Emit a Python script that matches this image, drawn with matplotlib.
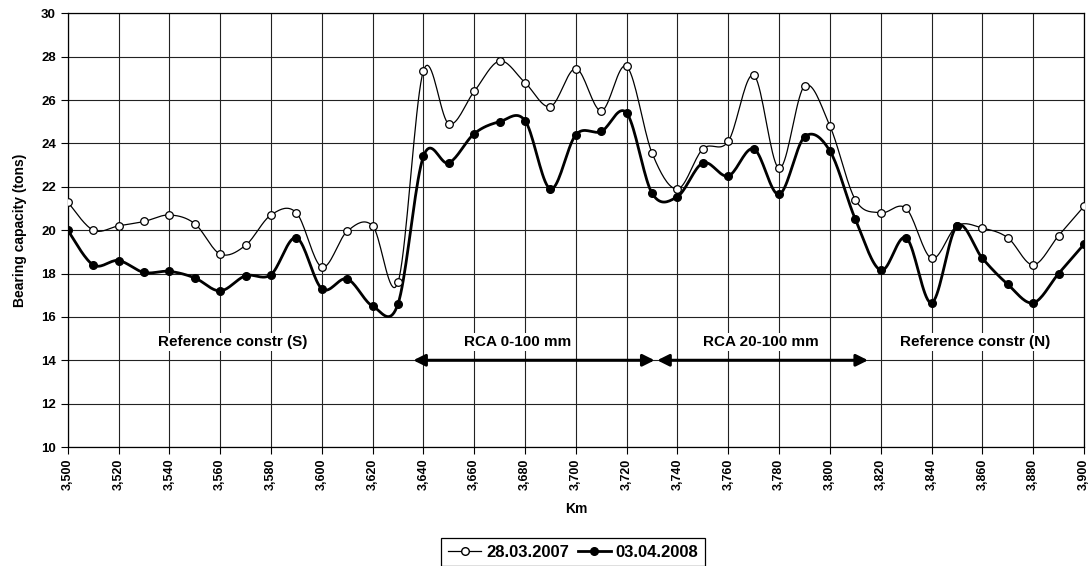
import matplotlib
matplotlib.use("Agg")
import matplotlib.pyplot as plt
import numpy as np

plt.rcParams['font.family'] = ['Liberation Sans', 'DejaVu Sans']
plt.rcParams['font.weight'] = 'bold'

# chainage (km * 1000)
km = np.arange(3500, 3901, 10)

cap_2007 = [21.3, 20.0, 20.2, 20.4, 20.7, 20.3, 18.9, 19.3, 20.7, 20.8,
            18.3, 19.95, 20.2, 17.6, 27.35, 24.9, 26.4, 27.8, 26.8, 25.7,
            27.45, 25.5, 27.55, 23.55, 21.9, 23.75, 24.1, 27.15, 22.85, 26.65,
            24.8, 21.4, 20.8, 21.0, 18.7, 20.2, 20.1, 19.65, 18.4, 19.75,
            21.1]
cap_2008 = [20.0, 18.4, 18.6, 18.05, 18.1, 17.8, 17.2, 17.9, 17.95, 19.65,
            17.3, 17.75, 16.5, 16.6, 23.4, 23.1, 24.45, 25.0, 25.05, 21.9,
            24.4, 24.55, 25.4, 21.7, 21.55, 23.1, 22.5, 23.75, 21.65, 24.3,
            23.65, 20.5, 18.15, 19.65, 16.65, 20.2, 18.7, 17.5, 16.65, 18.0,
            19.35]
series_labels = ['28.03.2007', '03.04.2008']

sections = ['Reference constr (S)', 'RCA 0-100 mm', 'RCA 20-100 mm',
            'Reference constr (N)']
section_pos = [3565, 3677, 3773, 3857]
arrows = [(3636, 3731), (3732, 3815)]


def smooth(x, y, n=20):
    """Excel-like smoothed line (Catmull-Rom as cubic Bezier)."""
    x = np.asarray(x, float)
    y = np.asarray(y, float)
    px = np.concatenate([[x[0]], x, [x[-1]]])
    py = np.concatenate([[y[0]], y, [y[-1]]])
    t = np.linspace(0, 1, n)[:, None]
    xs, ys = [], []
    for i in range(1, len(px) - 2):
        p0 = np.array([px[i - 1], py[i - 1]])
        p1 = np.array([px[i], py[i]])
        p2 = np.array([px[i + 1], py[i + 1]])
        p3 = np.array([px[i + 2], py[i + 2]])
        c1 = p1 + (p2 - p0) / 6
        c2 = p2 - (p3 - p1) / 6
        b = ((1 - t) ** 3) * p1 + 3 * ((1 - t) ** 2) * t * c1 \
            + 3 * (1 - t) * t ** 2 * c2 + t ** 3 * p2
        xs.append(b[:, 0])
        ys.append(b[:, 1])
    return np.concatenate(xs), np.concatenate(ys)


fig = plt.figure(figsize=(10.92, 5.66), dpi=100)
ax = fig.add_axes([0.062, 0.2102, 0.9307, 0.7663])

ax.set_xlim(3500, 3900)
ax.set_ylim(10, 30)
ax.set_xticks(np.arange(3500, 3901, 20))
ax.set_xticklabels([f"{v / 1000:.3f}".replace('.', ',') for v in range(3500, 3901, 20)],
                   rotation=90, fontsize=9, fontweight='bold')
ax.set_yticks(np.arange(10, 31, 2))
ax.set_yticklabels([str(v) for v in range(10, 31, 2)], fontsize=9.5, fontweight='bold')
ax.tick_params(direction='out', length=5, width=0.8, colors='black')
ax.grid(True, color='#222222', lw=0.8)
ax.set_axisbelow(True)
for s in ax.spines.values():
    s.set_color('black')
    s.set_linewidth(0.9)

sx, sy = smooth(km, cap_2007)
ax.plot(sx, sy, color='black', lw=0.9, zorder=3)
ax.plot(km, cap_2007, 'o', ms=5.5, mfc='white', mec='black', mew=0.9, zorder=4)
sx, sy = smooth(km, cap_2008)
ax.plot(sx, sy, color='black', lw=2.0, zorder=3)
ax.plot(km, cap_2008, 'o', ms=5.5, mfc='black', mec='black', zorder=4)

for name, xp in zip(sections, section_pos):
    ax.text(xp, 14.85, name, ha='center', va='center', fontsize=11,
            fontweight='bold', zorder=2,
            bbox=dict(facecolor='white', edgecolor='none', pad=1.5))
for x0, x1 in arrows:
    ax.annotate('', xy=(x1, 14), xytext=(x0, 14), zorder=5,
                arrowprops=dict(arrowstyle='<|-|>,head_length=0.7,head_width=0.35',
                                color='black', lw=2.2, shrinkA=0, shrinkB=0))

ax.set_xlabel('Km', fontsize=10, fontweight='bold', labelpad=8)
ax.set_ylabel('Bearing capacity (tons)', fontsize=10, fontweight='bold', labelpad=10)

h1 = plt.Line2D([], [], color='black', lw=0.9, marker='o', ms=5.5, mfc='white', mec='black')
h2 = plt.Line2D([], [], color='black', lw=2.0, marker='o', ms=5.5, mfc='black')
leg = fig.legend([h1, h2], series_labels, loc='upper center',
                 bbox_to_anchor=(0.525, 0.0495), ncol=2, fancybox=False,
                 edgecolor='black', framealpha=1, borderpad=0.4,
                 borderaxespad=0, handlelength=2.0, handletextpad=0.3,
                 columnspacing=0.5, prop={'size': 12, 'weight': 'bold'})
leg.get_frame().set_linewidth(0.9)

fig.savefig('out.png', dpi=100)
